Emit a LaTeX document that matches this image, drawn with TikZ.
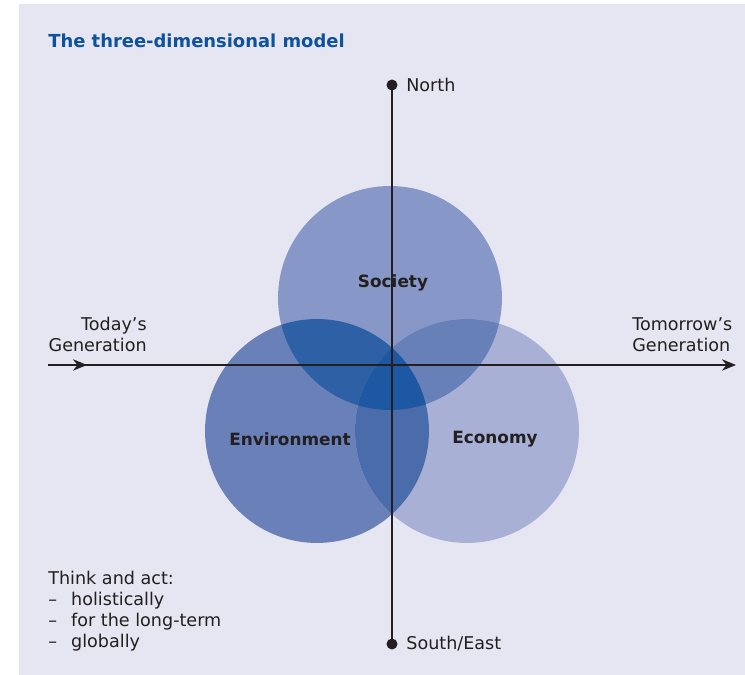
\documentclass[tikz,border=0pt]{standalone}
\usepackage{fontspec}
\setmainfont{DejaVu Sans}
\usetikzlibrary{arrows.meta}
\definecolor{bgcol}{RGB}{230,230,242}
\definecolor{titleblue}{RGB}{14,82,158}
\definecolor{inkcol}{RGB}{35,31,32}
\definecolor{soccol}{RGB}{135,152,200}
\definecolor{envcol}{RGB}{106,128,184}
\definecolor{ecocol}{RGB}{168,176,214}
\definecolor{socenv}{RGB}{46,96,166}
\definecolor{soceco}{RGB}{104,128,184}
\definecolor{enveco}{RGB}{74,108,170}
\definecolor{allthree}{RGB}{30,88,162}
\newcommand{\cirrad}{2.24cm}

\begin{document}
\begin{tikzpicture}[
    x=0.02cm, y=0.02cm,
    every node/.style={inner sep=0pt, text=inkcol, font=\fontsize{10}{12}\selectfont},
    axis/.style={draw=inkcol, line width=0.9pt},
    enddot/.style={circle, fill=inkcol, minimum size=0.22cm},
    dimlabel/.style={font=\fontsize{9.6}{11}\selectfont\bfseries}
]
% frame
\useasboundingbox (0,0) rectangle (745,675);
\fill[bgcol] (19,0) rectangle (745,671);
\node[anchor=west, text=titleblue, font=\fontsize{10.2}{12}\selectfont\bfseries] (title) at (48,634) {The three-dimensional model};

% the three dimensions
\coordinate (socc) at (390,377);
\coordinate (envc) at (317,244);
\coordinate (ecoc) at (467,244);
\fill[envcol] (envc) circle[radius=\cirrad];
\fill[soccol] (socc) circle[radius=\cirrad];
\fill[ecocol] (ecoc) circle[radius=\cirrad];
\begin{scope}
    \clip (socc) circle[radius=\cirrad];
    \fill[socenv] (envc) circle[radius=\cirrad];
    \fill[soceco] (ecoc) circle[radius=\cirrad];
\end{scope}
\begin{scope}
    \clip (envc) circle[radius=\cirrad];
    \fill[enveco] (ecoc) circle[radius=\cirrad];
    \clip (socc) circle[radius=\cirrad];
    \fill[allthree] (ecoc) circle[radius=\cirrad];
\end{scope}

% axes
\node[enddot] (north) at (392,590) {};
\node[enddot] (south) at (392,31) {};
\draw[axis] (north.center) -- (south.center);
\coordinate (today) at (48,310);
\coordinate (todaytip) at (87,310);
\coordinate (tomorrow) at (736,310);
\draw[axis, -{Stealth[length=8pt, width=6.5pt]}] (today) -- (todaytip);
\draw[axis, -{Stealth[length=8pt, width=6.5pt]}] (today) -- (tomorrow);

\node[anchor=west] (northlbl) at (406,590) {North};
\node[anchor=west] (southlbl) at (406,31) {South/East};
\node[anchor=east, align=right] (todaylbl) at (147,340.5) {Today’s\\Generation};
\node[anchor=west, align=left] (tomorrowlbl) at (632,340.5) {Tomorrow’s\\Generation};

\node[dimlabel] (society) at (393,392) {Society};
\node[dimlabel] (environment) at (290,236) {Environment};
\node[dimlabel] (economy) at (495,236) {Economy};

\node[anchor=west, align=left] (thinkact) at (48,63.5) {Think and act:\\–\hspace{8pt}holistically\\–\hspace{8pt}for the long-term\\–\hspace{8pt}globally};
\end{tikzpicture}
\end{document}
